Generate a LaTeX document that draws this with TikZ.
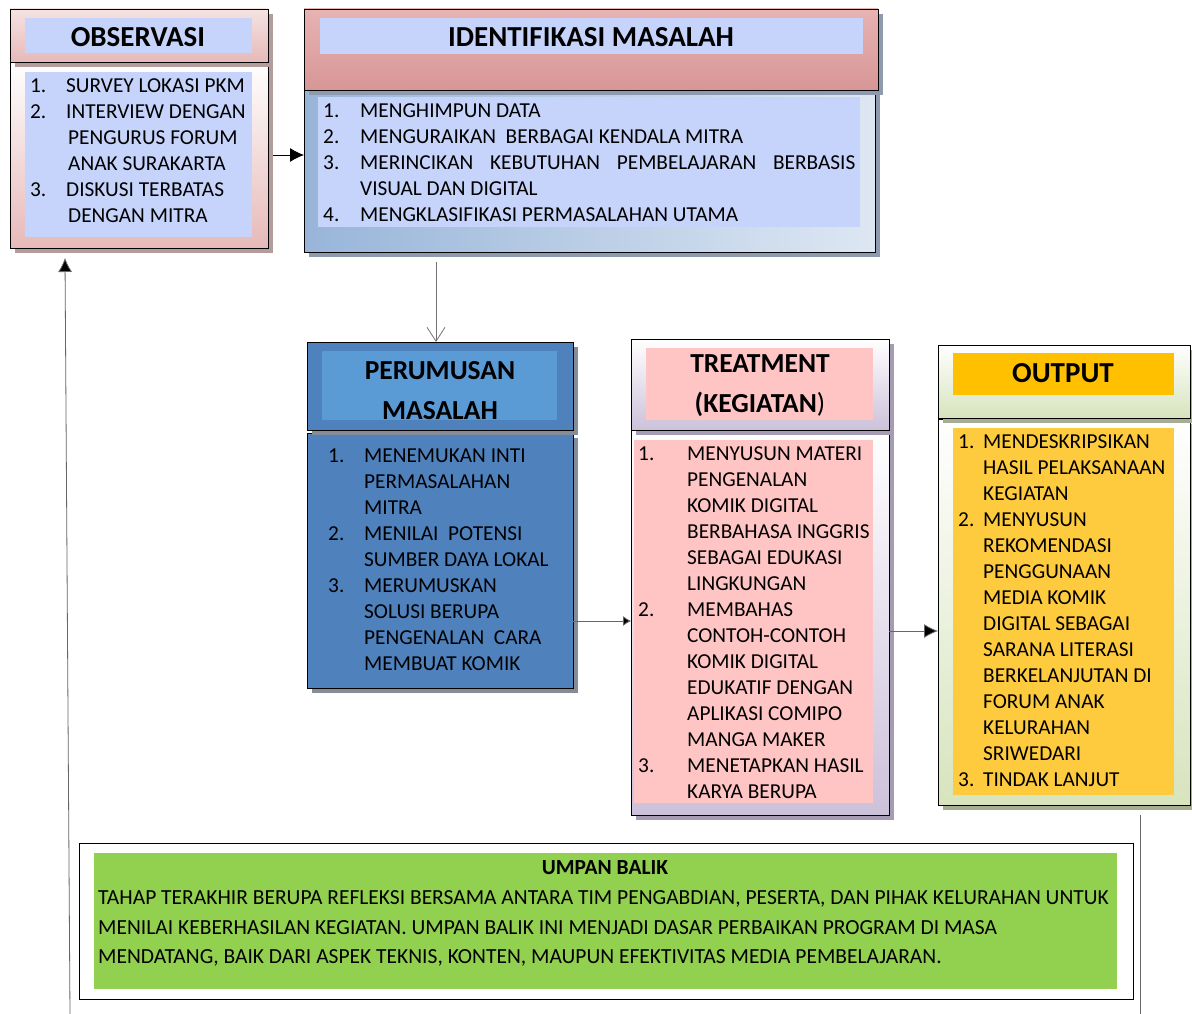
\documentclass[tikz,border=0pt]{standalone}
\usepackage{fontspec}
\setmainfont{Carlito}
\usetikzlibrary{arrows.meta,calc,shadows}
\definecolor{obsPink}{HTML}{E6B9B8}
\definecolor{lblue}{HTML}{C6D4FB}
\definecolor{idfTop}{HTML}{E7B3B3}
\definecolor{idfMid}{HTML}{F6E4E4}
\definecolor{idfBot}{HTML}{D89696}
\definecolor{idfL}{HTML}{98B5D9}
\definecolor{idfR}{HTML}{DDE7F3}
\definecolor{perBlue}{HTML}{4F81BD}
\definecolor{perTitle}{HTML}{5B9BD5}
\definecolor{trtLav}{HTML}{CCC1DA}
\definecolor{trtPink}{HTML}{FFC5C5}
\definecolor{outGreen}{HTML}{D7E4BD}
\definecolor{outTitle}{HTML}{FFC000}
\definecolor{outBody}{HTML}{FECB3E}
\definecolor{umpGreen}{HTML}{92D050}
\definecolor{obsSh}{HTML}{B39C9C}
\definecolor{idfSh}{HTML}{8E9AAE}
\definecolor{perSh}{HTML}{858C98}
\definecolor{trtSh}{HTML}{A59CB4}
\definecolor{outSh}{HTML}{A5AE92}
\newcommand\lnum[2]{\makebox[#1][l]{#2}}
\begin{document}
\begin{tikzpicture}[x=1pt,y=-1pt,
  frame/.style={draw=black, line width=0.9pt, anchor=north west, inner sep=0pt, outer sep=0pt},
  plate/.style={anchor=north west, inner sep=0pt, outer sep=0pt, draw=none},
  shd/.style={drop shadow={fill=#1, opacity=1, shadow xshift=5pt, shadow yshift=-5pt}},
  ttl/.style={font=\fontsize{29}{40}\selectfont\bfseries, inner sep=0pt, align=center},
  lst/.style={font=\fontsize{21.3}{26}\selectfont, anchor=base west, inner sep=0pt, align=left},
  conn/.style={draw=black!80, line width=0.8pt},
]
\useasboundingbox[fill=white] (0,0) rectangle (1192,1014);

% ---------- OBSERVASI ----------
\node[frame, shd=obsSh, minimum width=258, minimum height=186, top color=white, bottom color=obsPink] (obsb) at (10,62) {};
\node[frame, shd=obsSh, minimum width=258, minimum height=53, top color=white!60!obsPink, bottom color=obsPink] (obsh) at (10,9) {};
\node[plate, fill=lblue, minimum width=227, minimum height=35] (obsp) at (25,18) {};
\node[plate, fill=lblue, minimum width=227, minimum height=165] (obsq) at (25,72) {};
\node[ttl] (obst) at (138,37) {OBSERVASI};
\node[lst] (obsl) at (30,222.5) {\lnum{36pt}{1.}SURVEY LOKASI PKM\\
\lnum{36pt}{2.}INTERVIEW DENGAN\\
\hspace*{38pt}PENGURUS FORUM\\
\hspace*{38pt}ANAK SURAKARTA\\
\lnum{36pt}{3.}DISKUSI TERBATAS\\
\hspace*{38pt}DENGAN MITRA};

% ---------- IDENTIFIKASI ----------
\node[frame, shd=idfSh, minimum width=571, minimum height=162, left color=idfL, right color=idfR] (idfb) at (304,90) {};
\node[frame, shd=idfSh, minimum width=574, minimum height=81, top color=idfTop, middle color=idfMid, bottom color=idfBot] (idfh) at (304,9) {};
\node[plate, fill=lblue, minimum width=543, minimum height=36] (idfp) at (320,18) {};
\node[plate, fill=lblue, minimum width=542, minimum height=130] (idfq) at (318,97) {};
\node[ttl] (idft) at (591,37) {IDENTIFIKASI MASALAH};
\node[lst] (idfl) at (323,221.5) {\lnum{37pt}{1.}MENGHIMPUN DATA\\
\lnum{37pt}{2.}MENGURAIKAN\ \ BERBAGAI KENDALA MITRA\\
\lnum{37pt}{3.}\makebox[495pt][s]{MERINCIKAN KEBUTUHAN PEMBELAJARAN BERBASIS}\\
\hspace*{37pt}VISUAL DAN DIGITAL\\
\lnum{37pt}{4.}MENGKLASIFIKASI PERMASALAHAN UTAMA};

% ---------- PERUMUSAN ----------
\node[frame, shd=perSh, minimum width=266, minimum height=255, fill=perBlue] (perb) at (307,433) {};
\node[frame, shd=perSh, minimum width=266, minimum height=88, fill=perBlue] (perh) at (307,342) {};
\node[plate, fill=perTitle, minimum width=235, minimum height=69] (perp) at (322,351) {};
\node[ttl, font=\fontsize{27.5}{40}\selectfont\bfseries] (pert) at (440,391) {PERUMUSAN\\MASALAH};
\node[lst] (perl) at (328,670.5) {\lnum{36pt}{1.}MENEMUKAN INTI\\
\hspace*{36pt}PERMASALAHAN\\
\hspace*{36pt}MITRA\\
\lnum{36pt}{2.}MENILAI\ \ POTENSI\\
\hspace*{36pt}SUMBER DAYA LOKAL\\
\lnum{36pt}{3.}MERUMUSKAN\\
\hspace*{36pt}SOLUSI BERUPA\\
\hspace*{36pt}PENGENALAN\ \ CARA\\
\hspace*{36pt}MEMBUAT KOMIK};

% ---------- TREATMENT ----------
\node[frame, shd=trtSh, minimum width=258, minimum height=385, top color=white, bottom color=trtLav] (trtb) at (631,430) {};
\node[frame, shd=trtSh, minimum width=258, minimum height=91, top color=white, bottom color=trtLav] (trth) at (631,339) {};
\node[plate, fill=trtPink, minimum width=227, minimum height=72] (trtp) at (646,348) {};
\node[plate, fill=trtPink, minimum width=239, minimum height=363] (trtq) at (634,440) {};
\node[ttl, font=\fontsize{27.5}{40}\selectfont\bfseries] (trtt) at (760,386) {TREATMENT\\(KEGIATAN{\mdseries)}};
\node[lst] (trtl) at (638,798.5) {\lnum{49pt}{1.}MENYUSUN MATERI\\
\hspace*{49pt}PENGENALAN\\
\hspace*{49pt}KOMIK DIGITAL\\
\hspace*{49pt}BERBAHASA INGGRIS\\
\hspace*{49pt}SEBAGAI EDUKASI\\
\hspace*{49pt}LINGKUNGAN\\
\lnum{49pt}{2.}MEMBAHAS\\
\hspace*{49pt}CONTOH-CONTOH\\
\hspace*{49pt}KOMIK DIGITAL\\
\hspace*{49pt}EDUKATIF DENGAN\\
\hspace*{49pt}APLIKASI COMIPO\\
\hspace*{49pt}MANGA MAKER\\
\lnum{49pt}{3.}MENETAPKAN HASIL\\
\hspace*{49pt}KARYA BERUPA};

% ---------- OUTPUT ----------
\node[frame, shd=outSh, minimum width=252, minimum height=386, top color=white, bottom color=outGreen] (outb) at (938,419) {};
\node[frame, shd=outSh, minimum width=252, minimum height=73, top color=white, bottom color=outGreen] (outh) at (938,345) {};
\node[plate, fill=outTitle, minimum width=221, minimum height=42] (outp) at (953,353) {};
\node[plate, fill=outBody, minimum width=221, minimum height=367] (outq) at (953,428) {};
\node[ttl] (outt) at (1063,373) {OUTPUT};
\node[lst] (outl) at (958,786.5) {\lnum{25pt}{1.}MENDESKRIPSIKAN\\
\hspace*{25pt}HASIL PELAKSANAAN\\
\hspace*{25pt}KEGIATAN\\
\lnum{25pt}{2.}MENYUSUN\\
\hspace*{25pt}REKOMENDASI\\
\hspace*{25pt}PENGGUNAAN\\
\hspace*{25pt}MEDIA KOMIK\\
\hspace*{25pt}DIGITAL SEBAGAI\\
\hspace*{25pt}SARANA LITERASI\\
\hspace*{25pt}BERKELANJUTAN DI\\
\hspace*{25pt}FORUM ANAK\\
\hspace*{25pt}KELURAHAN\\
\hspace*{25pt}SRIWEDARI\\
\lnum{25pt}{3.}TINDAK LANJUT};

% ---------- UMPAN BALIK ----------
\node[frame, fill=white, minimum width=1054, minimum height=156] (umpb) at (79,843) {};
\node[plate, fill=umpGreen, minimum width=1023, minimum height=136] (umpq) at (94,853) {};
\node[inner sep=0pt, font=\fontsize{21.5}{29.5}\selectfont\bfseries] (umpt) at (605,868) {UMPAN BALIK};
\node[inner sep=0pt, anchor=base west, align=left, font=\fontsize{21.5}{29.5}\selectfont] (umpl) at (98,963.5) {TAHAP TERAKHIR BERUPA REFLEKSI BERSAMA ANTARA TIM PENGABDIAN, PESERTA, DAN PIHAK KELURAHAN UNTUK\\
MENILAI KEBERHASILAN KEGIATAN. UMPAN BALIK INI MENJADI DASAR PERBAIKAN PROGRAM DI MASA\\
MENDATANG, BAIK DARI ASPEK TEKNIS, KONTEN, MAUPUN EFEKTIVITAS MEDIA PEMBELAJARAN.};

% ---------- CONNECTORS ----------
\draw[conn, draw=black, -{Latex[length=14pt,width=14pt]}] ([xshift=5pt]obsb.east) -- (obsb.east -| idfb.west);
\coordinate (pn) at ([xshift=-4pt]perh.north);
\draw[conn, draw=black!55, -{Straight Barb[length=14pt,width=18pt]}] (idfb.south -| pn) ++(0,10) -- (pn);
\coordinate (r1) at (0,621);
\draw[conn, draw=black!60, -{Latex[length=8pt,width=10pt,fill=black]}] (perb.east |- r1) -- (trtb.west |- r1);
\coordinate (r2) at (0,631);
\draw[conn, draw=black!60, -{Latex[length=14pt,width=14pt,fill=black]}] (trtb.east |- r2) -- (outb.west |- r2);
\coordinate (fbR) at (1140,1014);
\draw[conn, draw=black!60] (outb.south -| fbR) ++(0,10) -- (fbR);
\coordinate (fbL) at (70,1014);
\draw[conn, draw=black!60, -{Latex[length=14pt,width=14pt,fill=black]}] (fbL) -- ($(obsb.south west)+(55,10)$);
\end{tikzpicture}
\end{document}
